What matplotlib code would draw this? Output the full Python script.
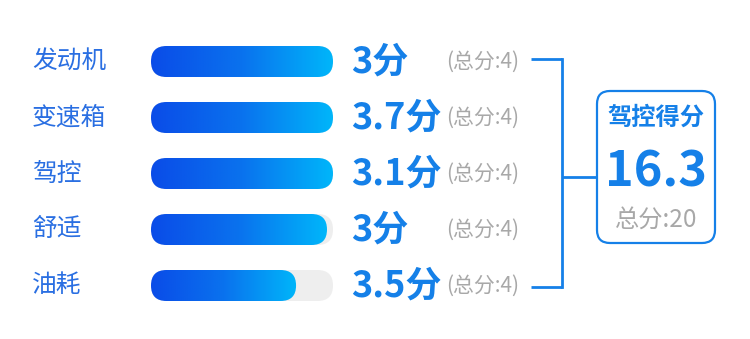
import numpy as np
import matplotlib
matplotlib.use("Agg")
import matplotlib.pyplot as plt
from matplotlib.patches import FancyBboxPatch
from matplotlib.colors import LinearSegmentedColormap

plt.rcParams['font.family'] = ['Noto Sans CJK SC', 'DejaVu Sans']

# data
items = ['发动机', '变速箱', '驾控', '舒适', '油耗']
scores = [3, 3.7, 3.1, 3, 3.5]
item_max = [4, 4, 4, 4, 4]
fill_ratio = [1.0, 1.0, 1.0, 0.967, 0.797]
total_title = '驾控得分'
total_score = 16.3
total_max = 20

BLUE = '#1580e8'
LABEL_BLUE = '#2a6fe2'
GRAY = '#a8a8a8'
grad = LinearSegmentedColormap.from_list('bar', ['#0a4ce8', '#0a72ee', '#00b6fa'])

fig = plt.figure(figsize=(7.5, 3.39), dpi=100)
ax = fig.add_axes([0, 0, 1, 1])
ax.set_xlim(0, 750)
ax.set_ylim(339, 0)
ax.axis('off')

row_y = 61.5
row_gap = 56
bar_x, bar_w, bar_h = 151, 182, 31
rad = bar_h / 2
gradient = np.linspace(0, 1, 256).reshape(1, -1)

ys = []
for i, (name, s, m, f) in enumerate(zip(items, scores, item_max, fill_ratio)):
    y = row_y + i * row_gap
    ys.append(y)
    ax.text(32, y, name, fontsize=17.8, color=LABEL_BLUE, va='center', ha='left')

    # track
    bg = FancyBboxPatch((bar_x, y - bar_h / 2), bar_w, bar_h,
                        boxstyle=f'round,pad=0,rounding_size={rad}',
                        fc='#eeeeee', ec='none')
    ax.add_patch(bg)
    # gradient fill
    w = bar_w * f
    clip = FancyBboxPatch((bar_x, y - bar_h / 2), w, bar_h,
                          boxstyle=f'round,pad=0,rounding_size={rad}',
                          fc='none', ec='none')
    ax.add_patch(clip)
    im = ax.imshow(gradient, cmap=grad, aspect='auto',
                   extent=[bar_x, bar_x + w, y + bar_h / 2, y - bar_h / 2],
                   interpolation='bicubic', zorder=2)
    im.set_clip_path(clip)

    ax.text(351, y + 1, f'{s:g}分', fontsize=26, fontweight='bold', color=BLUE,
            va='center', ha='left')
    ax.text(446, y, f'(总分:{m})', fontsize=15, color=GRAY, va='center', ha='left')

# bracket
bx = 562
ax.plot([531, bx], [ys[0] - 3, ys[0] - 3], color=BLUE, lw=2, solid_capstyle='butt')
ax.plot([531, bx], [ys[-1] + 1, ys[-1] + 1], color=BLUE, lw=2, solid_capstyle='butt')
ax.plot([bx, bx], [ys[0] - 3, ys[-1] + 1], color=BLUE, lw=2)
mid = 177
ax.plot([bx, 597], [mid, mid], color=BLUE, lw=2, solid_capstyle='butt')

box = FancyBboxPatch((597, 91), 118, 152, boxstyle='round,pad=0,rounding_size=13',
                     fc='white', ec=BLUE, lw=1.6)
ax.add_patch(box)
cx = 656
ax.text(cx, 118, total_title, fontsize=17.5, fontweight='bold', color=BLUE,
        ha='center', va='center')
ax.text(cx, 172, f'{total_score:g}', fontsize=35, fontweight='bold', color=BLUE,
        ha='center', va='center')
ax.text(cx, 221, f'总分:{total_max}', fontsize=17.5, color=GRAY, ha='center', va='center')

fig.savefig('out.png', dpi=100)
